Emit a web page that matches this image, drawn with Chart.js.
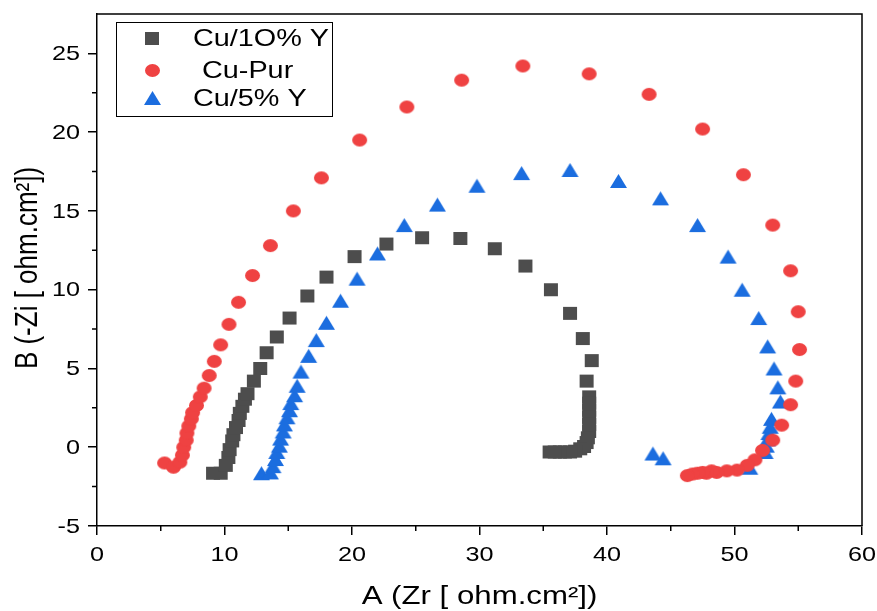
<!DOCTYPE html>
<html>
<head>
<meta charset="utf-8">
<script src="https://cdn.jsdelivr.net/npm/chart.js@4.4.1/dist/chart.umd.min.js"></script>
<style>
  html, body { margin: 0; padding: 0; background: #fff; }
</style>
</head>
<body>
<canvas id="nyquist" width="877" height="611"></canvas>
<script>
// ---- data (Zr, -Zi in ohm.cm2) ----
const seriesNames = ["Cu/1O% Y", "Cu-Pur", "Cu/5% Y"];

const cu10X = [9.1, 9.7, 10.1, 10.3, 10.4, 10.6, 10.7, 10.9, 11.1, 11.2, 11.4, 11.6, 11.8, 12.3, 12.8, 13.3, 14.1, 15.1, 16.5, 18.0,
  20.2, 22.7, 25.5, 28.5, 31.2, 33.6, 35.6, 37.1, 38.1, 38.8, 38.4, 38.6, 38.6, 38.6, 38.6, 38.6, 38.6, 38.5, 38.4, 38.2,
  37.9, 37.5, 37.1, 36.7, 36.3, 35.9, 35.5];
const cu10Y = [-1.65, -1.65, -1.15, -0.65, -0.15, 0.4, 0.8, 1.25, 1.7, 2.15, 2.6, 3.05, 3.4, 4.2, 5.0, 6.0, 7.0, 8.2, 9.6, 10.8,
  12.1, 12.9, 13.3, 13.25, 12.6, 11.5, 10.0, 8.5, 6.9, 5.5, 4.2, 3.2, 2.8, 2.35, 1.9, 1.45, 1.0, 0.6, 0.3, 0.05,
  -0.1, -0.25, -0.3, -0.3, -0.3, -0.3, -0.3];

const pureX = [5.3, 6.0, 6.5, 6.7, 6.8, 7.0, 7.05, 7.2, 7.4, 7.5, 7.8, 8.1, 8.4, 8.8, 9.2, 9.7, 10.35, 11.1, 12.2, 13.6,
  15.4, 17.6, 20.6, 24.3, 28.6, 33.4, 38.6, 43.3, 47.5, 50.7, 53.0, 54.4, 55.0, 55.1, 54.8, 54.4, 53.7, 53.0, 52.2, 51.6,
  51.0, 50.2, 49.4, 48.6, 48.2, 47.8, 47.5, 47.1, 46.7, 46.3];
const pureY = [-1.0, -1.27, -0.95, -0.5, 0, 0.45, 0.9, 1.35, 1.8, 2.2, 2.65, 3.2, 3.75, 4.55, 5.45, 6.5, 7.8, 9.2, 10.9, 12.8,
  15.0, 17.1, 19.5, 21.6, 23.3, 24.2, 23.7, 22.4, 20.2, 17.3, 14.1, 11.2, 8.6, 6.2, 4.2, 2.7, 1.4, 0.45, -0.2, -0.8,
  -1.15, -1.45, -1.5, -1.6, -1.5, -1.65, -1.6, -1.65, -1.7, -1.8];

const cu5X = [12.9, 13.6, 13.8, 14.0, 14.1, 14.3, 14.4, 14.6, 14.7, 14.9, 15.1, 15.2, 15.5, 15.7, 16.0, 16.6, 17.2, 18.0, 19.1, 20.4,
  22.0, 24.1, 26.7, 29.8, 33.3, 37.1, 40.9, 44.2, 47.1, 49.5, 50.6, 51.9, 52.6, 53.1, 53.4, 53.6, 52.9, 52.8, 52.7, 52.6,
  52.5, 52.4, 51.2, 44.4, 43.6];
const cu5Y = [-1.65, -1.6, -1.2, -0.75, -0.3, 0.1, 0.55, 1.0, 1.45, 1.9, 2.35, 2.8, 3.3, 3.9, 4.8, 5.8, 6.8, 7.9, 9.3, 10.7,
  12.3, 14.1, 15.4, 16.6, 17.4, 17.6, 16.9, 15.8, 14.1, 12.1, 10.0, 8.2, 6.4, 5.0, 3.8, 2.9, 1.8, 1.3, 0.9, 0.5,
  0.1, -0.3, -1.3, -0.7, -0.4];

const xTicks = [0, 10, 20, 30, 40, 50, 60];
const xMinor = [5, 15, 25, 35, 45, 55];
const yTicks = [-5, 0, 5, 10, 15, 20, 25];
const yMinor = [-2.5, 2.5, 7.5, 12.5, 17.5, 22.5];
const xTitle = "A (Zr [ ohm.cm²])";
const yTitle = "B (-Zi [ ohm.cm²])";

const FONT = "'Liberation Sans', Arial, sans-serif";
const GREY = "#4d4d4d";
const RED = "#ef4242";
const BLUE = "#1b6ddf";
const SX = 1.2; // the original picture is a bit wider than tall

const toPoints = (xs, ys) => xs.map((x, i) => ({ x: x, y: ys[i] }));

// small sprites for the markers (slightly wide, like the original), 1px margin so edges stay smooth
function marker(shape, w, h, color) {
  const c = document.createElement("canvas");
  c.width = w + 2; c.height = h + 2;
  const g = c.getContext("2d");
  g.fillStyle = color;
  g.beginPath();
  if (shape === "rect") g.rect(1, 1, w, h);
  else if (shape === "circle") g.ellipse(1 + w / 2, 1 + h / 2, w / 2, h / 2, 0, 0, Math.PI * 2);
  else { g.moveTo(1 + w / 2, 1); g.lineTo(1 + w, 1 + h); g.lineTo(1, 1 + h); g.closePath(); }
  g.fill();
  return c;
}
const squareImg = marker("rect", 14, 13, GREY);
const circleImg = marker("circle", 15, 13, RED);
const triangleImg = marker("triangle", 17, 14, BLUE);

function wideText(ctx, text, x, y, align, rotate) {
  ctx.save();
  ctx.translate(x, y);
  if (rotate) { ctx.rotate(-Math.PI / 2); ctx.scale(1, SX); }
  else ctx.scale(SX, 1);
  ctx.textAlign = align;
  ctx.fillText(text, 0, 0);
  ctx.restore();
}

// frame, minor ticks, labels and legend box
const decorations = {
  id: "decorations",
  afterDraw(chart) {
    const { ctx, chartArea: a, scales: { x, y } } = chart;
    ctx.save();
    ctx.strokeStyle = "#000";
    ctx.lineWidth = 1.5;
    ctx.beginPath();
    ctx.moveTo(a.left, a.top); ctx.lineTo(a.right, a.top); ctx.lineTo(a.right, a.bottom);
    xMinor.forEach(v => { const px = x.getPixelForValue(v); ctx.moveTo(px, a.bottom); ctx.lineTo(px, a.bottom + 5); });
    yMinor.forEach(v => { const py = y.getPixelForValue(v); ctx.moveTo(a.left, py); ctx.lineTo(a.left - 5, py); });
    ctx.stroke();

    ctx.fillStyle = "#000";
    ctx.textBaseline = "middle";
    ctx.font = "21px " + FONT;
    xTicks.forEach(v => wideText(ctx, String(v), x.getPixelForValue(v), a.bottom + 29, "center"));
    yTicks.forEach(v => wideText(ctx, String(v), a.left - 17, y.getPixelForValue(v) + 1, "right"));

    ctx.font = "26px " + FONT;
    wideText(ctx, xTitle, (a.left + a.right) / 2, 597, "center");
    wideText(ctx, yTitle, 28, (a.top + a.bottom) / 2 - 2, "center", true);

    // legend
    ctx.lineWidth = 1;
    ctx.strokeRect(116.5, 22.5, 216, 94);
    const rows = [38, 70, 98];
    const textX = [193, 202, 193];
    ctx.font = "24px " + FONT;
    chart.data.datasets.forEach((ds, i) => {
      const img = ds.pointStyle;
      ctx.drawImage(img, Math.round(152 - img.width / 2), Math.round(rows[i] - img.height / 2));
      ctx.fillStyle = "#000";
      wideText(ctx, ds.label, textX[i], rows[i] + 1, "left");
    });
    ctx.restore();
  }
};

new Chart(document.getElementById("nyquist"), {
  type: "scatter",
  data: {
    datasets: [
      { label: seriesNames[0], data: toPoints(cu10X, cu10Y), pointStyle: squareImg, backgroundColor: GREY },
      { label: seriesNames[1], data: toPoints(pureX, pureY), pointStyle: circleImg, backgroundColor: RED },
      { label: seriesNames[2], data: toPoints(cu5X, cu5Y), pointStyle: triangleImg, backgroundColor: BLUE }
    ]
  },
  options: {
    responsive: false,
    animation: false,
    layout: { padding: { left: 0, top: 14, right: 15, bottom: 0 } },
    plugins: { legend: { display: false }, tooltip: { enabled: false } },
    scales: {
      x: {
        type: "linear", min: 0, max: 60,
        afterBuildTicks: s => { s.ticks = xTicks.map(v => ({ value: v })); },
        afterFit: s => { s.height = 85; s.paddingLeft = 0; s.paddingRight = 0; },
        grid: { drawOnChartArea: false, tickLength: 9, color: "#000", lineWidth: 1.5 },
        border: { color: "#000", width: 1.5 },
        ticks: { display: false }
      },
      y: {
        type: "linear", min: -5, max: 27.5,
        afterBuildTicks: s => { s.ticks = yTicks.map(v => ({ value: v })); },
        afterFit: s => { s.width = 97; s.paddingTop = 0; s.paddingBottom = 0; },
        grid: { drawOnChartArea: false, tickLength: 9, color: "#000", lineWidth: 1.5 },
        border: { color: "#000", width: 1.5 },
        ticks: { display: false }
      }
    }
  },
  plugins: [decorations]
});
</script>
</body>
</html>
